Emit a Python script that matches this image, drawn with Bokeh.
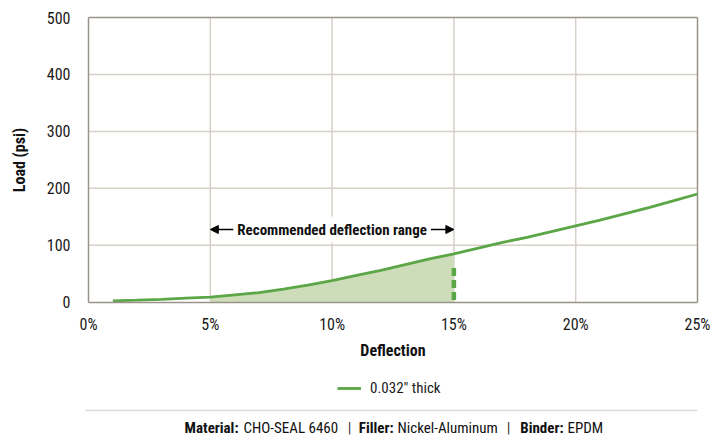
from bokeh.plotting import figure
from bokeh.models import (Range1d, FixedTicker, PrintfTickFormatter, Label, Arrow,
                          NormalHead, Legend, LegendItem)
from bokeh.embed import file_html
from bokeh.resources import INLINE

# ---- data ----
deflection = [1, 2, 3, 4, 5, 6, 7, 8, 9, 10, 11, 12, 13, 14, 15, 16, 17, 18, 19, 20, 21, 22, 23, 24, 25]
load = [2.5, 3.5, 5, 7, 9, 13, 17, 23, 30, 38, 47, 56, 66, 76, 85, 95, 105, 114, 124, 134, 144, 155, 166, 178, 190]
range_start = 5
range_end = 15
dash_top = 60
series_name = "0.032\" thick"
x_ticks = [0, 5, 10, 15, 20, 25]
y_ticks = [0, 100, 200, 300, 400, 500]
footer_keys = ["Material:", "Filler:", "Binder:"]
footer_vals = ["CHO-SEAL 6460", "Nickel-Aluminum", "EPDM"]

FONT = "'Roboto Condensed', 'DejaVu Sans Condensed', Roboto"
GREEN = "#5ba646"
FILL = "#cddcb9"
GRID = "#d6d0c8"
FRAME = "#9a938a"

W, H = 710, 437
LEFT, TOP, RIGHT = 88, 17, 697      # chart area in page pixels
Y_ZERO_PX = 301.7
XMIN, XMAX = x_ticks[0], x_ticks[-1]
YMAX = y_ticks[-1]
y_scale = (Y_ZERO_PX - TOP) / YMAX            # px per psi
x_scale = (RIGHT - LEFT) / (XMAX - XMIN)      # px per %


def dx(px):
    return XMIN + (px - LEFT) / x_scale


def dy(py):
    return (Y_ZERO_PX - py) / y_scale


# the frame covers the whole canvas; axes are pinned to the chart area
p = figure(width=W, height=H, output_backend="svg", toolbar_location=None,
           x_range=Range1d(dx(0), dx(W)), y_range=Range1d(dy(H), dy(0)),
           min_border_left=0, min_border_right=0, min_border_top=0, min_border_bottom=0)

p.outline_line_color = None
p.background_fill_color = "white"

for ax in (p.xaxis[0], p.yaxis[0]):
    ax.axis_line_color = FRAME
    ax.axis_line_width = 1.5
    ax.major_tick_line_color = None
    ax.minor_tick_line_color = None
    ax.major_label_text_font = FONT
    ax.major_label_text_font_size = "16px"
    ax.major_label_text_color = "#1a1a1a"
    ax.axis_label_text_font = FONT
    ax.axis_label_text_font_style = "bold"
    ax.axis_label_text_font_size = "16px"
    ax.axis_label_text_color = "#111111"

p.xaxis.ticker = FixedTicker(ticks=x_ticks)
p.yaxis.ticker = FixedTicker(ticks=y_ticks)
p.xaxis.formatter = PrintfTickFormatter(format="%d%%")
p.xaxis.axis_label = "Deflection"
p.yaxis.axis_label = "Load (psi)"
p.xaxis.fixed_location = 0
p.yaxis.fixed_location = XMIN
p.xaxis.bounds = (XMIN, XMAX)
p.yaxis.bounds = (0, YMAX)
p.xaxis.major_label_standoff = 7
p.xaxis.axis_label_standoff = 3
p.yaxis.major_label_standoff = 12
p.yaxis.axis_label_standoff = 15

# grid (limited to the chart area)
p.grid.visible = False
p.segment(x0=x_ticks[1:-1], y0=[0] * (len(x_ticks) - 2), x1=x_ticks[1:-1], y1=[YMAX] * (len(x_ticks) - 2),
          line_color=GRID, line_width=1.5)
p.segment(x0=[XMIN] * (len(y_ticks) - 2), y0=y_ticks[1:-1], x1=[XMAX] * (len(y_ticks) - 2), y1=y_ticks[1:-1],
          line_color=GRID, line_width=1.5)
# top and right frame border
p.segment(x0=[XMIN, XMAX], y0=[YMAX, 0], x1=[XMAX, XMAX], y1=[YMAX, YMAX],
          line_color=FRAME, line_width=1.5)

# shaded recommended region
xs_fill = [x for x in deflection if range_start <= x <= range_end]
ys_fill = [load[deflection.index(x)] for x in xs_fill]
p.varea(x=xs_fill, y1=[0] * len(xs_fill), y2=ys_fill, fill_color=FILL, fill_alpha=1.0)

# curve
line_r = p.line(deflection, load, line_color=GREEN, line_width=2.8)

# dashed marker at range end
p.line([range_end, range_end], [dash_top, 0], line_color=GREEN, line_width=4.5,
       line_dash="8 4")

# recommended range arrow + label
arrow_y = dy(229)
p.add_layout(Arrow(x_start=range_start, y_start=arrow_y, x_end=range_end, y_end=arrow_y,
                   line_color="black", line_width=1.5,
                   start=NormalHead(size=8, fill_color="black", line_color="black"),
                   end=NormalHead(size=8, fill_color="black", line_color="black")))
p.add_layout(Label(x=(range_start + range_end) / 2, y=arrow_y, text="Recommended deflection range",
                   text_align="center", text_baseline="middle", text_font=FONT,
                   text_font_style="bold", text_font_size="15px", text_color="#111111",
                   background_fill_color="white", padding=4))

# legend (screen offsets from the canvas' bottom-left corner)
legend = Legend(items=[LegendItem(label=series_name, renderers=[line_r])],
                location=(337, 39), orientation="horizontal",
                border_line_color=None, background_fill_alpha=0,
                label_text_font=FONT, label_text_font_size="15px", label_text_color="#1a1a1a",
                glyph_width=24, glyph_height=20, label_standoff=9, padding=5, margin=0)
p.add_layout(legend, "center")

# separator line
p.segment(x0=[dx(85)], y0=[dy(410)], x1=[XMAX], y1=[dy(410)], line_color="#dedad4", line_width=1.5)

# footer
fy = dy(427)
key_right = [238, 393, 563]
val_left = [243, 397, 567]
sep_x = [349, 508]
for k, v, kx, vx in zip(footer_keys, footer_vals, key_right, val_left):
    p.add_layout(Label(x=dx(kx), y=fy, text=k, text_align="right", text_baseline="middle",
                       text_font=FONT, text_font_style="bold", text_font_size="15px",
                       text_color="#111111"))
    p.add_layout(Label(x=dx(vx), y=fy, text=v, text_align="left", text_baseline="middle",
                       text_font=FONT, text_font_size="15px", text_color="#111111"))
for sx in sep_x:
    p.add_layout(Label(x=dx(sx), y=fy, text="|", text_align="center", text_baseline="middle",
                       text_font=FONT, text_font_size="15px", text_color="#333333"))

open("out.html", "w").write(file_html(p, INLINE))
